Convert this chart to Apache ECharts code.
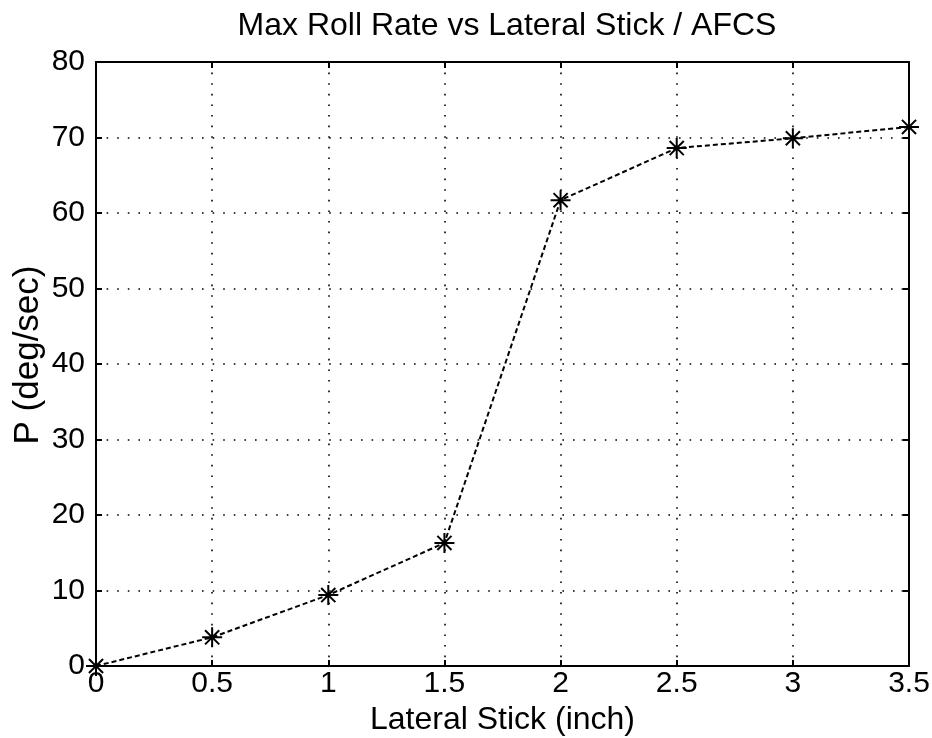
<!DOCTYPE html>
<html>
<head>
<meta charset="utf-8">
<style>
  html, body { margin: 0; padding: 0; background: #fff; }
  #chart { width: 932px; height: 738px; }
</style>
<script src="https://cdn.jsdelivr.net/npm/echarts@6/dist/echarts.min.js"></script>
</head>
<body>
<div id="chart"></div>
<script>
// Lateral stick deflection (inch) and resulting max roll rate (deg/sec)
const stickInch = [0, 0.5, 1, 1.5, 2, 2.5, 3, 3.5];
const rollRate = [0, 3.8, 9.4, 16.3, 61.7, 68.6, 69.9, 71.4];
const xTicks = { min: 0, max: 3.5, interval: 0.5 };
const yTicks = { min: 0, max: 80, interval: 10 };

const FONT = '"Liberation Sans", Arial, sans-serif';
const asterisk = 'path://M0,-10L0,10M-10,0L10,0M-7.07,-7.07L7.07,7.07M-7.07,7.07L7.07,-7.07';

const gridDots = { show: true, lineStyle: { color: '#000', width: 1.6, type: [1.6, 9] } };
const tickIn = { show: true, inside: true, length: 6, lineStyle: { color: '#000', width: 2 } };
const frame = { show: true, onZero: false, lineStyle: { color: '#000', width: 2 } };
const label = { color: '#000', fontSize: 30, fontFamily: FONT };

const chart = echarts.init(document.getElementById('chart'), null, { renderer: 'canvas' });
chart.setOption({
  backgroundColor: '#fff',
  animation: false,
  title: {
    text: 'Max Roll Rate vs Lateral Stick / AFCS',
    left: 502, top: 5, textAlign: 'center',
    textStyle: { color: '#000', fontSize: 32, fontWeight: 'normal', fontFamily: FONT }
  },
  grid: { left: 96, right: 23, top: 62, bottom: 72, outerBoundsMode: 'none', containLabel: false },
  xAxis: [
    {
      type: 'value', min: xTicks.min, max: xTicks.max, interval: xTicks.interval,
      axisLine: frame, axisTick: tickIn, splitLine: gridDots,
      axisLabel: Object.assign({ margin: 3 }, label),
      name: 'Lateral Stick (inch)', nameLocation: 'middle', nameGap: 30,
      nameTextStyle: { color: '#000', fontSize: 32, fontFamily: FONT }
    },
    {
      type: 'value', position: 'top', min: xTicks.min, max: xTicks.max, interval: xTicks.interval,
      axisLine: frame, axisTick: tickIn, splitLine: { show: false }, axisLabel: { show: false }
    }
  ],
  yAxis: [
    {
      type: 'value', min: yTicks.min, max: yTicks.max, interval: yTicks.interval,
      axisLine: frame, axisTick: tickIn, splitLine: gridDots,
      axisLabel: Object.assign({ margin: 11, padding: [0, 0, 10, 0] }, label),
      name: 'P (deg/sec)', nameLocation: 'middle', nameGap: 50, nameMoveOverlap: false,
      nameTextStyle: { color: '#000', fontSize: 35, fontFamily: FONT, padding: [0, 0, 0, 18] }
    },
    {
      type: 'value', position: 'right', min: yTicks.min, max: yTicks.max, interval: yTicks.interval,
      axisLine: frame, axisTick: tickIn, splitLine: { show: false }, axisLabel: { show: false }
    }
  ],
  series: [{
    type: 'line',
    data: stickInch.map((x, i) => [x, rollRate[i]]),
    lineStyle: { color: '#000', width: 2, type: [5, 3] },
    symbol: asterisk,
    symbolSize: 20,
    showAllSymbol: true,
    clip: false,
    itemStyle: { color: 'none', borderColor: '#000', borderWidth: 2 },
    z: 5
  }]
});
</script>
</body>
</html>
